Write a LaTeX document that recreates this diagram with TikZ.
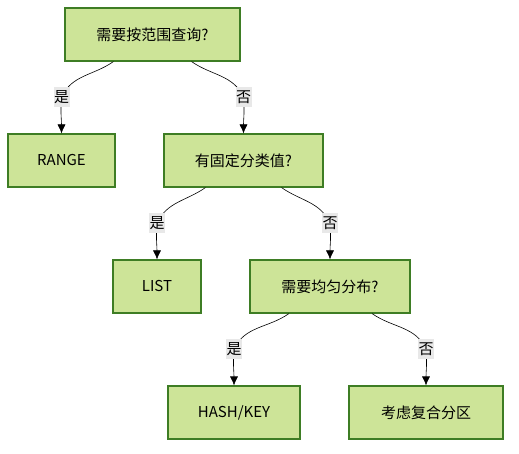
\documentclass[tikz,border=0pt]{standalone}
\usepackage{fontspec}
\setmainfont{Noto Sans CJK SC}
\usetikzlibrary{arrows.meta}
\definecolor{boxfill}{HTML}{CDE498}
\definecolor{boxline}{HTML}{3E7D24}
\definecolor{lblfill}{HTML}{E8E8E8}

\begin{document}
\begin{tikzpicture}[x=1pt, y=-1pt]
% Styles
\tikzset{
    decision/.style={draw=boxline, line width=1.1pt, fill=boxfill, minimum height=53pt, inner sep=0pt, font=\fontsize{15}{17}\selectfont},
    edge/.style={line width=0.6pt, -{Latex[length=9pt, width=8pt]}},
    lbl/.style={fill=lblfill, inner xsep=0.5pt, inner ysep=3.5pt, font=\fontsize{15}{17}\selectfont}
}
\useasboundingbox (0, 0) rectangle (519, 454);

% Nodes
\node[decision, minimum width=175pt] (Q1) at (152.5, 34.5) {需要按范围查询?};
\node[decision, minimum width=107pt] (RANGE) at (61.5, 160.5) {RANGE};
\node[decision, minimum width=159pt] (Q2) at (243.5, 160.5) {有固定分类值?};
\node[decision, minimum width=88pt] (LIST) at (157, 286.5) {LIST};
\node[decision, minimum width=160pt] (Q3) at (330, 286.5) {需要均匀分布?};
\node[decision, minimum width=132pt] (HASH) at (234, 412.5) {HASH/KEY};
\node[decision, minimum width=154pt] (COMBO) at (426, 412.5) {考虑复合分区};

% Label points
\coordinate (M1) at (61.5, 97);
\coordinate (M2) at (243.5, 97);
\coordinate (M3) at (157, 223);
\coordinate (M4) at (330, 223);
\coordinate (M5) at (234, 349);
\coordinate (M6) at (426, 349);

% Connections
\draw[edge] ([xshift=-39pt]Q1.south) to[out=-145, in=65] (M1) to[out=-95, in=90] (RANGE.north);
\draw[edge] ([xshift=39pt]Q1.south) to[out=-35, in=115] (M2) to[out=-85, in=90] (Q2.north);
\draw[edge] ([xshift=-38pt]Q2.south) to[out=-145, in=65] (M3) to[out=-95, in=90] (LIST.north);
\draw[edge] ([xshift=38pt]Q2.south) to[out=-35, in=115] (M4) to[out=-85, in=90] (Q3.north);
\draw[edge] ([xshift=-41pt]Q3.south) to[out=-145, in=65] (M5) to[out=-95, in=90] (HASH.north);
\draw[edge] ([xshift=42pt]Q3.south) to[out=-35, in=115] (M6) to[out=-85, in=90] (COMBO.north);

% Labels
\node[lbl] (L1) at (M1) {是};
\node[lbl] (L2) at (M2) {否};
\node[lbl] (L3) at (M3) {是};
\node[lbl] (L4) at (M4) {否};
\node[lbl] (L5) at (M5) {是};
\node[lbl] (L6) at (M6) {否};
\end{tikzpicture}
\end{document}
